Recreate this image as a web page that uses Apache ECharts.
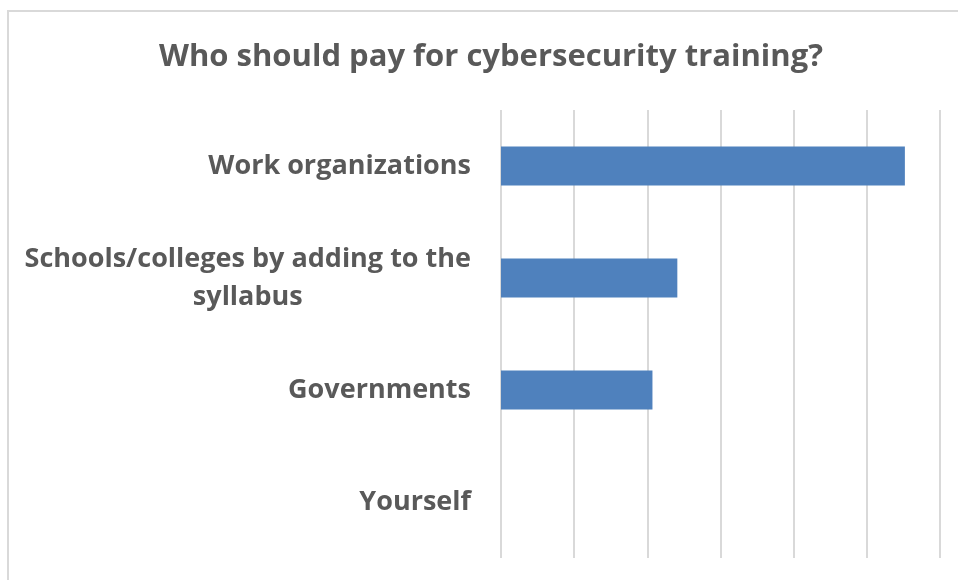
<!DOCTYPE html>
<html>
<head>
<meta charset="utf-8">
<style>
  html, body { margin: 0; padding: 0; background: #ffffff; }
  #chart { width: 958px; height: 580px; }
</style>
<script src="https://cdn.jsdelivr.net/npm/echarts@6/dist/echarts.min.js"></script>
</head>
<body>
<div id="chart"></div>
<script>
// Survey answers, share of respondents (%)
const categories = [
  'Work organizations',
  'Schools/colleges by adding to the syllabus',
  'Governments',
  'Yourself'
];
const shares = [55.2, 24.1, 20.7, 0];

const titleText = 'Who should pay for cybersecurity training?';
const textColor = '#595959';
const fontFamily = '"Open Sans", "Noto Sans", sans-serif';

// Labels broken onto two lines where needed; each line centred in its block
const labelLines = {
  'Schools/colleges by adding to the syllabus': ['Schools/colleges by adding to the', 'syllabus']
};

const chart = echarts.init(document.getElementById('chart'), null, { renderer: 'canvas' });

chart.setOption({
  backgroundColor: '#ffffff',
  animation: false,
  title: {
    text: titleText,
    left: 154,
    top: 37,
    textStyle: {
      color: textColor,
      fontFamily: fontFamily,
      fontWeight: 'bold',
      fontSize: 31
    }
  },
  graphic: [
    {
      type: 'rect',
      shape: { x: 8, y: 11, width: 980, height: 600 },
      style: { fill: 'none', stroke: '#d9d9d9', lineWidth: 2 },
      silent: true,
      z: -1
    }
  ],
  grid: {
    left: 501,
    right: 18,
    top: 110,
    bottom: 22,
    containLabel: false
  },
  xAxis: {
    type: 'value',
    min: 0,
    max: 60,
    interval: 10,
    axisLine: { show: false },
    axisTick: { show: false },
    axisLabel: { show: false },
    splitLine: { show: true, lineStyle: { color: '#d9d9d9', width: 2 } }
  },
  yAxis: {
    type: 'category',
    inverse: true,
    data: categories,
    axisLine: { show: false },
    axisTick: { show: false },
    axisLabel: {
      margin: 30,
      color: textColor,
      fontFamily: fontFamily,
      fontWeight: 'bold',
      fontSize: 27,
      align: 'right',
      formatter: function (value) {
        const lines = labelLines[value] || [value];
        return lines.map(function (l) { return '{c|' + l + '}'; }).join('\n');
      },
      rich: {
        c: {
          align: 'center',
          color: textColor,
          fontFamily: fontFamily,
          fontWeight: 'bold',
          fontSize: 27,
          lineHeight: 38
        }
      }
    }
  },
  series: [
    {
      type: 'bar',
      data: shares,
      barCategoryGap: '65%',
      itemStyle: { color: '#4f81bd' },
      silent: true
    }
  ]
});
</script>
</body>
</html>
